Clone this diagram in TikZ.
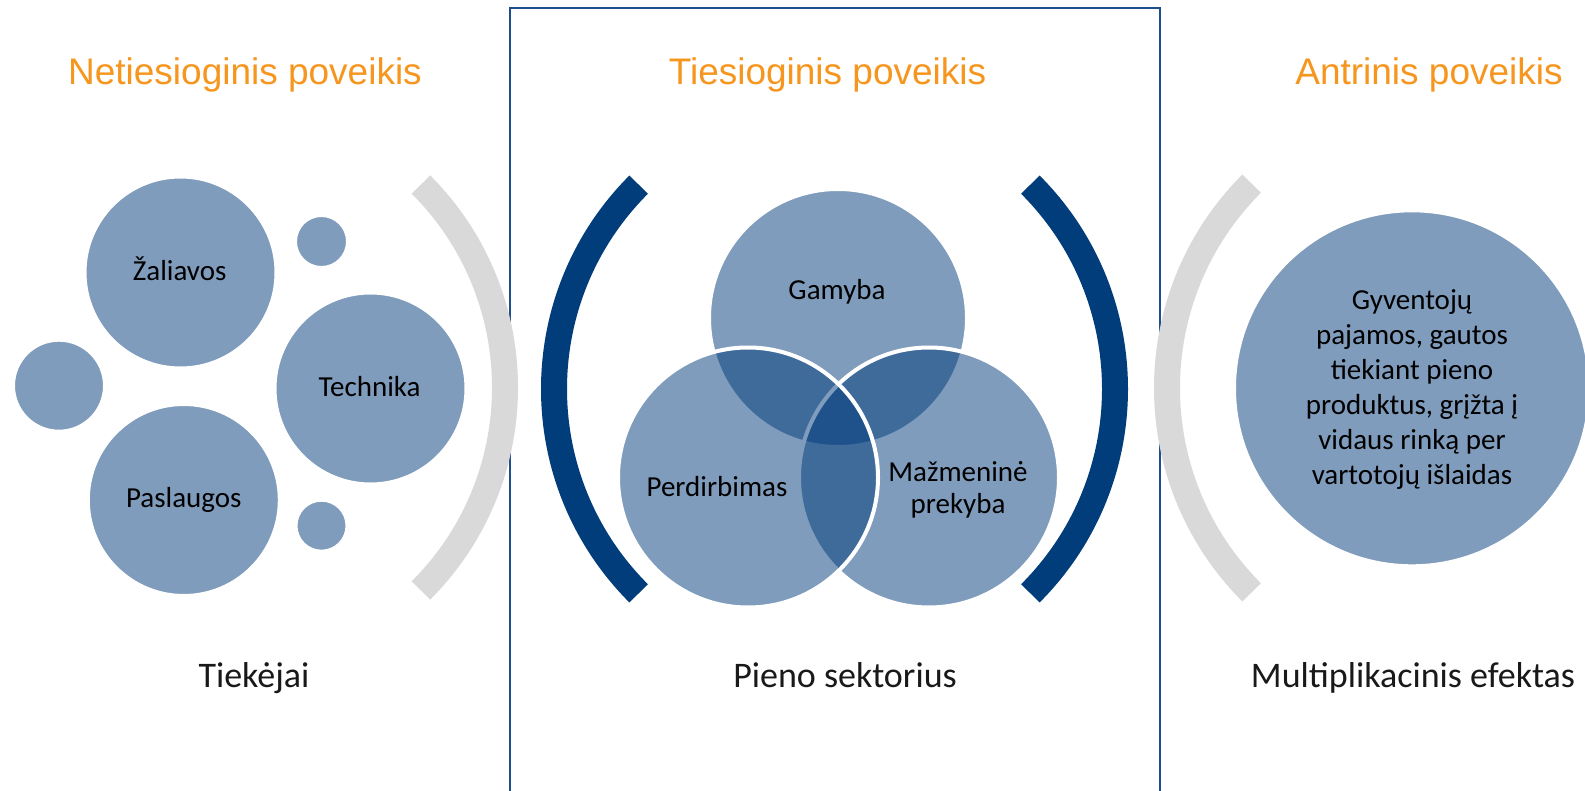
\documentclass[tikz,border=0pt]{standalone}
\usepackage{fontspec}
\setmainfont{Carlito}
\newfontfamily\headfont{Liberation Sans}
\definecolor{headorange}{RGB}{246,150,30}
\definecolor{navy}{RGB}{0,61,122}
\definecolor{arcgray}{RGB}{217,217,217}
\definecolor{bubble}{RGB}{0,59,123}
\definecolor{boxline}{RGB}{31,78,140}
\begin{document}
\begin{tikzpicture}[x=1pt,y=-1pt,
  bub/.style={circle, fill=bubble, fill opacity=0.5, draw=white, line width=4pt, inner sep=0pt, minimum size=#1},
  heading/.style={font=\headfont\fontsize{37}{44}\selectfont, text=headorange, inner sep=0pt, anchor=base},
  bottomlbl/.style={font=\fontsize{36}{43}\selectfont, text=black!90, inner sep=0pt, anchor=base},
  ctext/.style={font=\fontsize{29}{35}\selectfont, text=black, inner sep=0pt},
  grayarc/.style={draw=arcgray, line width=26pt, line cap=butt},
  navyarc/.style={draw=navy, line width=26pt, line cap=butt}]
\fill[white] (0,0) rectangle (1585,791);
\useasboundingbox (0,0) rectangle (1585,791);

% panel frame
\draw[boxline, line width=1.3pt] (510,791) -- (510,8) -- (1160,8) -- (1160,791);

% headings
\node[heading] (h1) at (245,85) {Netiesioginis poveikis};
\node[heading] (h2) at (827.5,85) {Tiesioginis poveikis};
\node[heading] (h3) at (1429,85) {Antrinis poveikis};

% arc centres
\coordinate (cg1) at (218,387.5);
\coordinate (cn1) at (843,389);
\coordinate (cn2) at (826,389);
\coordinate (cg2) at (1456,388);

% brackets
\draw[grayarc] ([shift={(-45:287)}]cg1) arc[start angle=-45, end angle=45, radius=287];
\draw[navyarc] ([shift={(135:289)}]cn1) arc[start angle=135, end angle=225, radius=289];
\draw[navyarc] ([shift={(-45:289)}]cn2) arc[start angle=-45, end angle=45, radius=289];
\draw[grayarc] ([shift={(135:289)}]cg2) arc[start angle=135, end angle=225, radius=289];

% left panel bubbles
\node[bub=192pt] (zal) at (180.5,272.5) {};
\node[bub=53pt] (st) at (321.5,241.5) {};
\node[bub=92pt] (lm) at (59,385.7) {};
\node[bub=192pt] (tech) at (370.5,388.5) {};
\node[bub=192pt] (pasl) at (183.8,500) {};
\node[bub=52pt] (sb) at (321.5,525.7) {};
\node[ctext, anchor=base] (tzal) at (179.7,280.7) {Žaliavos};
\node[ctext, anchor=base] (ttech) at (369.5,397) {Technika};
\node[ctext, anchor=base] (tpasl) at (183.8,507.3) {Paslaugos};

% Venn
\node[bub=258pt] (gam) at (838,318) {};
\node[bub=260pt] (maz) at (929,477.5) {};
\node[bub=260pt] (perd) at (748,477.5) {};
\node[ctext, anchor=base] (tgam) at (837,300) {Gamyba};
\node[ctext, anchor=base] (tperd) at (717,496.7) {Perdirbimas};
\node[ctext, align=center] (tmaz) at (958,489.5) {Mažmeninė\\[-3pt]prekyba};

% right panel
\node[bub=356pt] (big) at (1412,388.3) {};
\node[ctext, align=center] (tbig) at (1412,390) {Gyventojų\\pajamos, gautos\\tiekiant pieno\\produktus, grįžta į\\vidaus rinką per\\vartotojų išlaidas};

% bottom labels
\node[bottomlbl] (b1) at (254,687) {Tiekėjai};
\node[bottomlbl] (b2) at (845,687) {Pieno sektorius};
\node[bottomlbl] (b3) at (1413,687) {Multiplikacinis efektas};
\end{tikzpicture}
\end{document}
